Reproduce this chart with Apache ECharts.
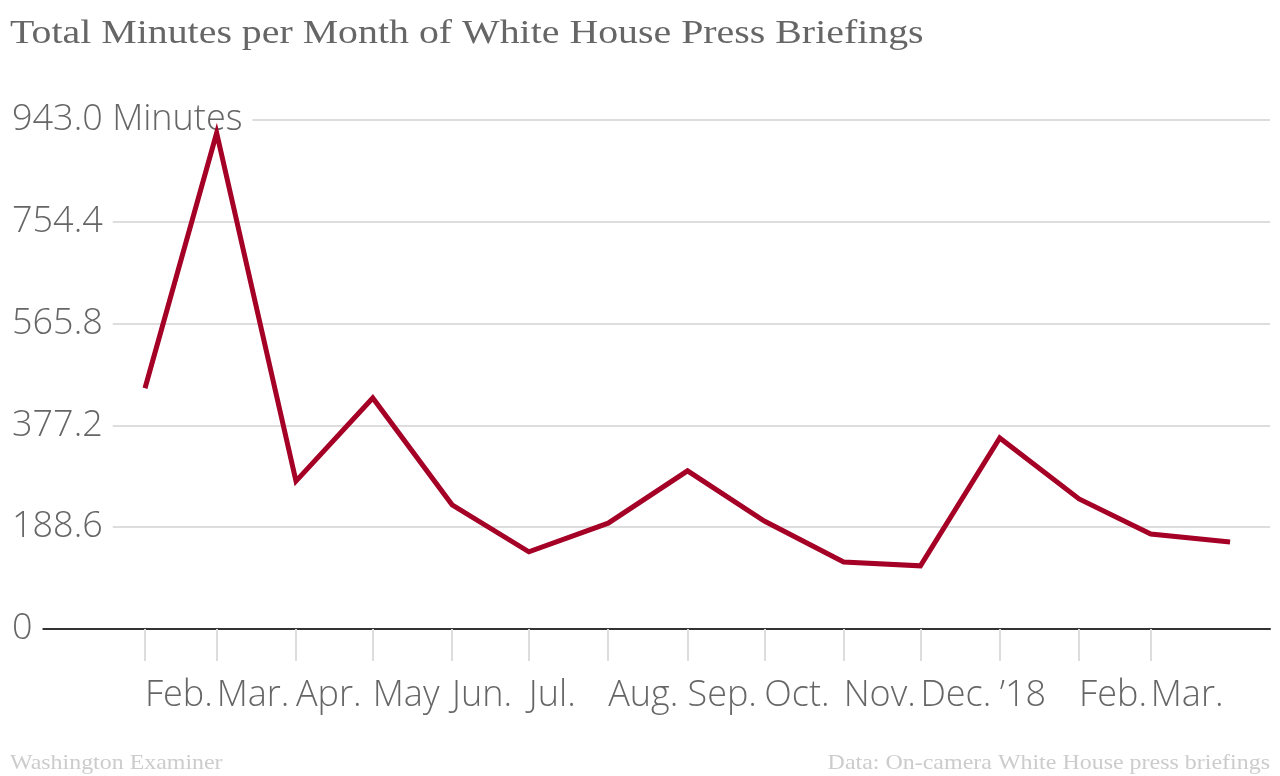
<!DOCTYPE html>
<html>
<head>
<meta charset="utf-8">
<script src="https://cdn.jsdelivr.net/npm/echarts@6/dist/echarts.min.js"></script>
<style>
html,body{margin:0;padding:0;background:#fff;}
#chart{width:1280px;height:776px;}
</style>
</head>
<body>
<div id="chart"></div>
<script>
// Data: total minutes of on-camera press briefings per month
var dates = ['2017-02-01','2017-03-01','2017-04-01','2017-05-01','2017-06-01','2017-07-01','2017-08-01','2017-09-01','2017-10-01','2017-11-01','2017-12-01','2018-01-01','2018-02-01','2018-03-01','2018-04-01'];
var minutes = [446, 919, 274, 428, 230, 143, 196, 293, 200, 124, 117, 354, 241, 176, 161];
var tickDates = ['2017-02-01','2017-03-01','2017-04-01','2017-05-01','2017-06-01','2017-07-01','2017-08-01','2017-09-01','2017-10-01','2017-11-01','2017-12-01','2018-01-01','2018-02-01','2018-03-01'];
var tickLabels = ['Feb.','Mar.','Apr.','May','Jun.','Jul.','Aug.','Sep.','Oct.','Nov.','Dec.','\u201918','Feb.','Mar.'];
var yTicks = [0, 188.6, 377.2, 565.8, 754.4, 943.0];
var yLabels = ['0','188.6','377.2','565.8','754.4','943.0 Minutes'];
var titleText = 'Total Minutes per Month of White House Press Briefings';
var sourceLeft = 'Washington Examiner';
var sourceRight = 'Data: On-camera White House press briefings';

// days since 2017-02-01 (UTC) used as the x value
var DAY = 86400000;
var base = Date.UTC(2017, 1, 1);
function dayNum(s){ var p = s.split('-'); return Math.round((Date.UTC(+p[0], +p[1]-1, +p[2]) - base) / DAY); }
var tickDays = tickDates.map(dayNum);
var seriesData = dates.map(function(d,i){ return [dayNum(d), minutes[i]]; });

var chart = echarts.init(document.getElementById('chart'));
var fontSans = '"Open Sans", sans-serif';
var serif = '"Liberation Serif", serif';
chart.setOption({
  backgroundColor: '#fff',
  animation: false,
  graphic: [{
    type: 'text', x: 10, y: 34, scaleX: 1.172, silent: true,
    style: {text: titleText, font: '34px ' + serif, fill: '#666', align: 'left', verticalAlign: 'middle'}
  },{
    type: 'text', x: 10, y: 763, scaleX: 1.087, silent: true,
    style: {text: sourceLeft, font: '22px ' + serif, fill: '#ccc', align: 'left', verticalAlign: 'middle'}
  },{
    type: 'text', x: 1270, y: 763, scaleX: 1.089, silent: true,
    style: {text: sourceRight, font: '22px ' + serif, fill: '#ccc', align: 'right', verticalAlign: 'middle'}
  }],
  grid: {left: 10, right: 10, top: 120, bottom: 147, containLabel: false},
  xAxis: {
    type: 'value',
    min: -52.75,
    max: dayNum('2018-04-01') + 15.6,
    axisLine: {show: true, onZero: false, lineStyle: {color: '#333', width: 2}},
    axisTick: {show: true, customValues: tickDays, length: 32, lineStyle: {color: '#ddd', width: 2}},
    axisLabel: {
      show: true, customValues: tickDays, align: 'left', margin: 49,
      fontFamily: fontSans, fontWeight: 300, fontSize: 36, color: '#666',
      formatter: function(v){ var i = tickDays.indexOf(Math.round(v)); return i >= 0 ? tickLabels[i] : ''; }
    },
    splitLine: {show: false}
  },
  yAxis: {
    type: 'value',
    min: 0, max: 943, interval: 188.6,
    z: 1,
    axisLine: {show: false},
    axisTick: {show: false},
    splitLine: {show: true, showMinLine: false, lineStyle: {color: '#ddd', width: 2}},
    axisLabel: {
      inside: true, margin: -6, align: 'left', verticalAlign: 'middle',
      fontFamily: fontSans, fontWeight: 300, fontSize: 36, color: '#666',
      backgroundColor: '#fff', padding: [0, 10, 0, 8],
      formatter: function(v){ var i = Math.round(v/188.6); return yLabels[i] !== undefined ? yLabels[i] : ''; }
    }
  },
  series: [{
    type: 'line',
    data: seriesData,
    symbol: 'none',
    z: 3,
    lineStyle: {color: '#a50026', width: 5, join: 'miter'},
    itemStyle: {color: '#a50026'}
  }]
});
</script>
</body>
</html>
